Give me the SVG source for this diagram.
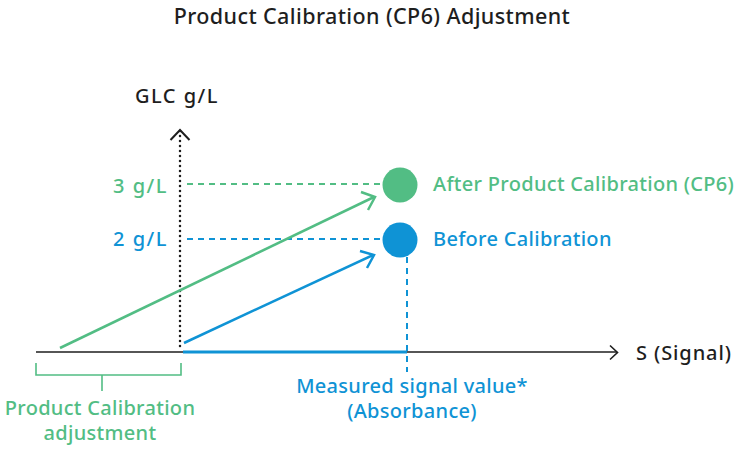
<svg xmlns="http://www.w3.org/2000/svg" width="735" height="451" viewBox="0 0 735 451">
  <defs>
    <style>
      text { font-family: "Noto Sans", "Open Sans", sans-serif; font-weight: 500; font-size: 20px; letter-spacing: 0.3px; }
      .title { font-size: 21.5px; letter-spacing: 0.4px; }
      .wide { letter-spacing: 1.5px; }
      .axis-x { letter-spacing: 0.9px; }
      .dark { fill: #1e1e1e; }
      .green { fill: #52bd84; }
      .blue { fill: #0f93d5; }
      .gline { stroke: #52bd84; fill: none; }
      .bline { stroke: #0f93d5; fill: none; }
      .dash { stroke-width: 2; stroke-dasharray: 6 5; }
    </style>
  </defs>
  <rect width="735" height="451" fill="#ffffff"/>

  <text class="dark title" x="372" y="24" text-anchor="middle">Product Calibration (CP6) Adjustment</text>

  <!-- axes -->
  <g id="axes">
    <line x1="180" y1="131" x2="180" y2="350" stroke="#1e1e1e" stroke-width="2.5" stroke-dasharray="0 5" stroke-linecap="round"/>
    <polyline points="170.5,140 180,130 189.5,140" fill="none" stroke="#1e1e1e" stroke-width="2"/>
    <text class="dark wide" x="135" y="103">GLC g/L</text>
    <line x1="36" y1="352" x2="617" y2="352" stroke="#1e1e1e" stroke-width="1.6"/>
    <polyline points="610,345.5 617.5,352.5 610,359.5" fill="none" stroke="#1e1e1e" stroke-width="1.6"/>
    <text class="dark axis-x" x="636" y="360">S (Signal)</text>
  </g>

  <!-- value levels -->
  <g id="level-3">
    <text class="green wide" x="113" y="193">3 g/L</text>
    <line class="gline dash" x1="187" y1="184" x2="383" y2="184"/>
  </g>
  <g id="level-2">
    <text class="blue wide" x="113" y="246">2 g/L</text>
    <line class="bline dash" x1="187" y1="239" x2="383" y2="239"/>
  </g>

  <!-- points -->
  <g id="after-calibration">
    <circle cx="400" cy="185" r="17.5" fill="#52bd84"/>
    <text class="green" x="433" y="191">After Product Calibration (CP6)</text>
  </g>
  <g id="before-calibration">
    <circle cx="400" cy="240" r="17.5" fill="#0f93d5"/>
    <text class="blue" x="433" y="246">Before Calibration</text>
  </g>

  <g id="measured-signal">
    <line class="bline" x1="183" y1="352" x2="407" y2="352" stroke-width="3"/>
    <line class="bline dash" x1="407" y1="257" x2="407" y2="372"/>
    <text class="blue" x="412" y="393" text-anchor="middle">Measured signal value*</text>
    <text class="blue" x="412" y="418" text-anchor="middle">(Absorbance)</text>
  </g>

  <g id="adjustment">
    <polyline class="gline" points="36,363 36,375 181,375 181,363" stroke-width="1.6"/>
    <line class="gline" x1="102" y1="375" x2="102" y2="391" stroke-width="1.6"/>
    <text class="green" x="100" y="415" text-anchor="middle">Product Calibration</text>
    <text class="green" x="100" y="440" text-anchor="middle">adjustment</text>
  </g>

  <!-- connectors -->
  <g id="connectors">
    <line class="gline" x1="60" y1="348" x2="374" y2="197" stroke-width="2.5"/>
    <polyline class="gline" points="361,192 375,197 368,210" stroke-width="2.5"/>
    <line class="bline" x1="184" y1="343" x2="373" y2="255" stroke-width="2.5"/>
    <polyline class="bline" points="360,251 374,255 367,268" stroke-width="2.5"/>
  </g>
</svg>
